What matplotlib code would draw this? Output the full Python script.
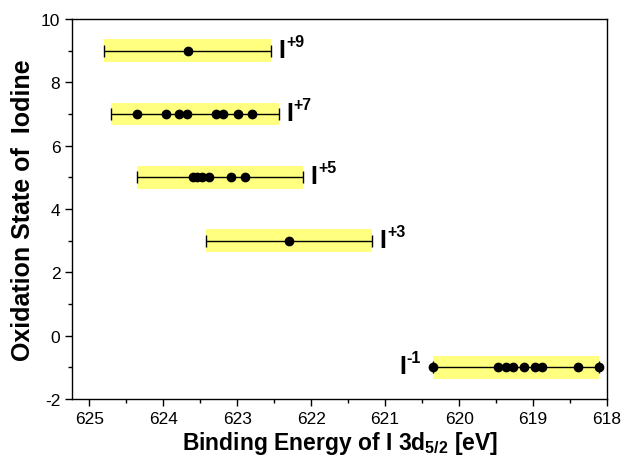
import matplotlib
matplotlib.use("Agg")
import matplotlib.pyplot as plt
from matplotlib.ticker import MultipleLocator

plt.rcParams['font.family'] = ['Liberation Sans', 'DejaVu Sans']
plt.rcParams['mathtext.fontset'] = 'custom'
plt.rcParams['mathtext.rm'] = 'Liberation Sans:bold'
plt.rcParams['mathtext.bf'] = 'Liberation Sans:bold'
plt.rcParams['axes.unicode_minus'] = False

# oxidation states and measured binding energies (eV)
states = [9, 7, 5, 3, -1]
charges = ["+9", "+7", "+5", "+3", "-1"]
energies = [
    [623.67],
    [624.36, 623.96, 623.78, 623.68, 623.29, 623.19, 622.99, 622.80],
    [623.59, 623.54, 623.48, 623.38, 623.08, 622.90],
    [622.30],
    [620.35, 619.48, 619.37, 619.27, 619.12, 618.98, 618.88, 618.39, 618.11],
]
# centre and half width of each range bar
centers = [623.67, 623.57, 623.23, 622.30, 619.23]
halfwidth = [1.13, 1.13, 1.12, 1.125, 1.12]

fig = plt.figure(figsize=(6.33, 4.64), dpi=100)
ax = fig.add_axes([0.114, 0.138, 0.845, 0.819])

for i in range(len(states)):
    y = states[i]
    ax.barh(y, 2 * halfwidth[i], left=centers[i] - halfwidth[i], height=0.72,
            color='#ffff80', zorder=1)
    ax.errorbar(centers[i], y, xerr=halfwidth[i], fmt='none', ecolor='black',
                elinewidth=1, capsize=4, capthick=1, zorder=2)
    ax.plot(energies[i], [y] * len(energies[i]), 'o', color='black', ms=6, zorder=3)
    # x axis is reversed: higher energy on the left
    if y < 0:
        xl = centers[i] + halfwidth[i] + 0.46
    else:
        xl = centers[i] - halfwidth[i] - 0.1
    ax.annotate("I", xy=(xl, y), xytext=(0, 0.8), textcoords='offset points',
                fontsize=18, fontweight='heavy', ha='left', va='center')
    ax.annotate(charges[i], xy=(xl, y), xytext=(5.5, 6.8), textcoords='offset points',
                fontsize=11.5, fontweight='bold', ha='left', va='center')

ax.set_xlim(625.23, 618)
ax.set_ylim(-2, 10)
ax.xaxis.set_major_locator(MultipleLocator(1))
ax.xaxis.set_minor_locator(MultipleLocator(0.5))
ax.yaxis.set_major_locator(MultipleLocator(2))
ax.yaxis.set_minor_locator(MultipleLocator(1))
ax.tick_params(which='both', direction='out', top=False, right=False, labelsize=12.5)
ax.tick_params(which='major', length=5, width=1)
ax.tick_params(which='minor', length=3, width=1)
for s in ax.spines.values():
    s.set_linewidth(1)

ax.set_xlabel("Binding Energy of I 3d$_{5/2}$ [eV]", fontsize=16.5, fontweight='bold', labelpad=2)
ax.set_ylabel("Oxidation State of  Iodine", fontsize=18, fontweight='bold', labelpad=4)

fig.savefig("out.png", dpi=100)
